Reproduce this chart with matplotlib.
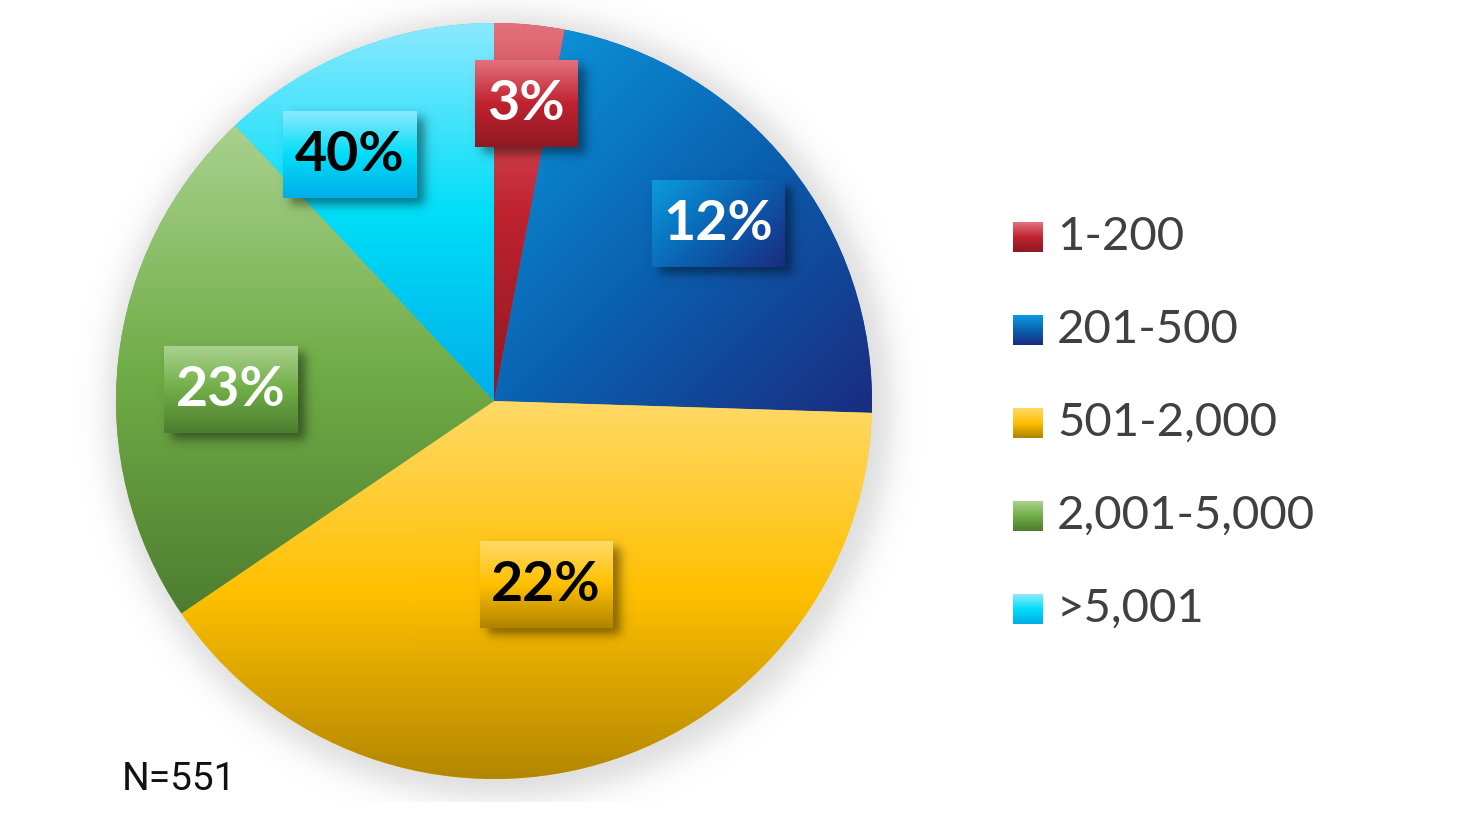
import numpy as np
import matplotlib.pyplot as plt
from matplotlib.colors import LinearSegmentedColormap
from matplotlib.patches import Rectangle

# data
categories = ['1-200', '201-500', '501-2,000', '2,001-5,000', '>5,001']
shares = [3, 22.5, 40, 22.5, 12]      # slice sizes as drawn
labels = ['3%', '12%', '22%', '23%', '40%']
note = 'N=551'

# light / base / dark gradient stops per category
stops = [
    ['#e3707b', '#c0222f', '#8f1922'],
    ['#0c9ade', '#0a62b2', '#1a2c80'],
    ['#ffd966', '#ffc000', '#b08400'],
    ['#a9d18e', '#70ad47', '#4e7d30'],
    ['#8ae9ff', '#00def8', '#00aee8'],
]
grad_angle = [-90, -45, -90, -90, -90]
text_colors = ['white', 'white', 'black', 'white', 'black']

W, H = 1478, 834
cx, cy, R = 494, 433, 378
# label box centres and size (pixels, y up)
box_pos = [(526, 731), (718, 611), (546, 250), (231, 445), (350, 680)]
box_w = [103, 133, 133, 134, 134]
box_h = 87

fig = plt.figure(figsize=(W / 100, H / 100), dpi=100)
ax = fig.add_axes([0, 0, 1, 1])


def gradient(x0, x1, y0, y1, colors, angle, clip=None, z=2):
    nx, ny = max(int(x1 - x0), 2), max(int(y1 - y0), 2)
    X, Y = np.meshgrid(np.linspace(x0, x1, nx), np.linspace(y0, y1, ny))
    a = np.deg2rad(angle)
    p = (X - x0) * np.cos(a) + (Y - y0) * np.sin(a)
    t = (p - p.min()) / (p.max() - p.min())
    cmap = LinearSegmentedColormap.from_list('g', colors)
    im = ax.imshow(cmap(t), extent=(x0, x1, y0, y1), origin='lower',
                   interpolation='bilinear', zorder=z, aspect='auto')
    if clip is not None:
        im.set_clip_path(clip)
    return im


def soft_shadow(x0, x1, y0, y1, s, alpha, z):
    m = 4 * s
    X, Y = np.meshgrid(np.arange(x0 - m, x1 + m), np.arange(y0 - m, y1 + m))
    fx = 0.5 * (np.tanh((X - x0) / s) - np.tanh((X - x1) / s))
    fy = 0.5 * (np.tanh((Y - y0) / s) - np.tanh((Y - y1) / s))
    img = np.zeros(X.shape + (4,))
    img[..., 3] = alpha * fx * fy
    ax.imshow(img, extent=(x0 - m, x1 + m, y0 - m, y1 + m), origin='lower',
              interpolation='bilinear', zorder=z, aspect='auto')


# soft halo behind the pie
X, Y = np.meshgrid(np.arange(0, W), np.arange(32, H))
d = np.hypot(X - (cx + 5), Y - (cy - 6))
halo = np.zeros(X.shape + (4,))
halo[..., :3] = 0.45
halo[..., 3] = 0.24 * 0.5 * (1 - np.tanh((d - R - 14) / 17))
ax.imshow(halo, extent=(0, W, 32, H), origin='lower', zorder=0, aspect='auto')

wedges, _ = ax.pie(shares, startangle=90, counterclock=False, center=(cx, cy),
                   radius=R, colors=[s[1] for s in stops],
                   wedgeprops=dict(linewidth=0))
for w, st, ang in zip(wedges, stops, grad_angle):
    v = w.get_patch_transform().transform(w.get_path().vertices)
    gradient(v[:, 0].min(), v[:, 0].max(), v[:, 1].min(), v[:, 1].max(),
             st, ang, clip=w, z=2)

# label boxes
for lab, st, ang, tc, (bx, by), bw in zip(labels, stops, grad_angle,
                                          text_colors, box_pos, box_w):
    x0, x1, y0, y1 = bx - bw / 2, bx + bw / 2, by - box_h / 2, by + box_h / 2
    soft_shadow(x0 + 7, x1 + 7, y0 - 7, y1 - 7, 6, 0.45, 3)
    rect = Rectangle((x0, y0), bw, box_h, facecolor='none', edgecolor='none')
    ax.add_patch(rect)
    gradient(x0, x1, y0, y1, st, ang, clip=rect, z=4)
    ax.text(bx, by - 1, lab, ha='center', va='center', fontsize=40,
            fontweight='bold', family='Lato', color=tc, zorder=5)

# legend
for i, (cat, st) in enumerate(zip(categories, stops)):
    yc = 597 - i * 93
    sq = Rectangle((1013, yc - 15), 30, 30, facecolor='none', edgecolor='none')
    ax.add_patch(sq)
    gradient(1013, 1043, yc - 15, yc + 15, st, -90, clip=sq, z=4)
    ax.text(1057, yc, cat, ha='left', va='center', fontsize=34,
            family='Lato', color='#404040', zorder=5)

ax.text(122, 55, note, ha='left', va='center', color='#111111', zorder=5,
        family='Roboto', fontsize=28)

ax.set_xlim(0, W)
ax.set_ylim(0, H)
ax.set_aspect('auto')
ax.axis('off')
fig.savefig('out.png', dpi=100, facecolor='white')
